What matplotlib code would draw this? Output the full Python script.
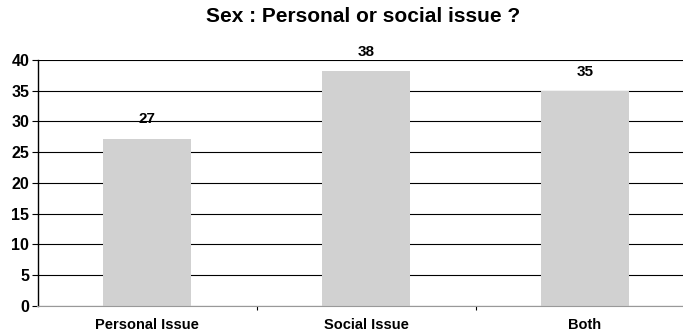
import numpy as np
import matplotlib.pyplot as plt

# Data
categories = ['Personal Issue', 'Social Issue', 'Both']
values = [27.2, 38.2, 34.9]
labels = ['27', '38', '35']

plt.rcParams['font.family'] = ['Liberation Sans', 'DejaVu Sans']
plt.rcParams['font.weight'] = 'bold'

fig = plt.figure(figsize=(6.83, 3.36), dpi=100)
# axis runs past the right edge like the original
ax = fig.add_axes([37.5 / 683, 30.3 / 336, 657 / 683, 245.7 / 336])

x = np.arange(len(categories))
ax.bar(x, values, width=0.40, color='#d1d1d1', zorder=2)
for xi, v, lab in zip(x, values, labels):
    ax.text(xi, v + 2.0, lab, ha='center', va='bottom', fontsize=11, fontweight='bold')

ax.set_xlim(-0.5, 2.5)
ax.set_ylim(0, 40)
ax.set_yticks(np.arange(0, 41, 5))
ax.yaxis.grid(True, color='black', linewidth=0.8, zorder=1)
ax.set_axisbelow(True)

# category labels centred, separator ticks between categories
ax.set_xticks(x)
ax.set_xticklabels(categories, fontsize=10.5, fontweight='bold')
ax.tick_params(axis='x', which='major', length=0, pad=9)
ax.set_xticks([0.5, 1.5], minor=True)
ax.tick_params(axis='x', which='minor', length=3, width=0.8, color='black')
ax.tick_params(axis='y', length=4, width=0.8, pad=2, labelsize=11.5)
for t in ax.get_yticklabels():
    t.set_fontweight('bold')

for s in ['top', 'right']:
    ax.spines[s].set_visible(False)
ax.spines['left'].set_linewidth(1.0)
ax.spines['bottom'].set_linewidth(0.8)
ax.spines['bottom'].set_color('#999999')

fig.text(363 / 683, 1 - 17 / 336, 'Sex : Personal or social issue ?', ha='center', va='center',
         fontsize=15, fontweight='bold')

fig.savefig('out.png', dpi=100)
